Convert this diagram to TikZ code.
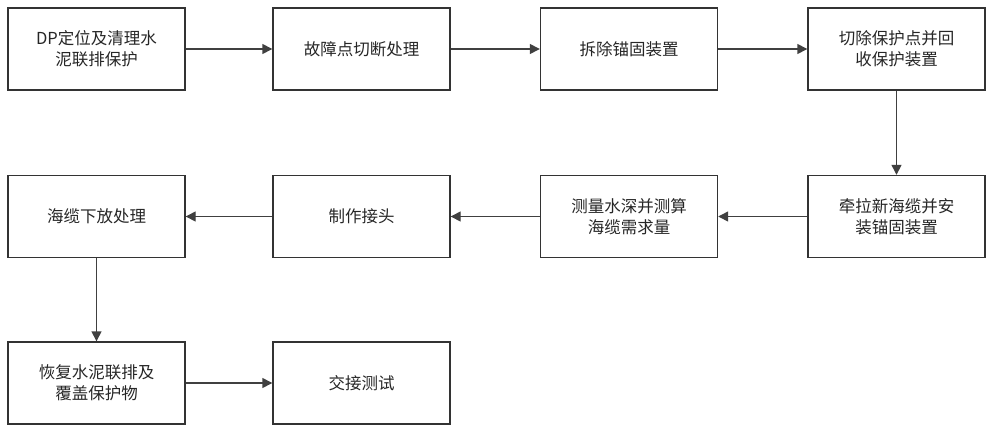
\documentclass[tikz,border=0pt]{standalone}
\usepackage{fontspec}
\setmainfont{Noto Sans CJK SC}
\usetikzlibrary{arrows.meta}
\begin{document}
\begin{tikzpicture}[x=1pt,y=-1pt,
  box/.style={draw=black!80,line width=1.4pt,minimum width=177pt,minimum height=82pt,align=center,font=\fontsize{16.5}{21}\selectfont,inner sep=2pt,text=black!85},
  arr/.style={-{Triangle[length=10pt,width=10pt]},line width=1.4pt,draw=black!75}]
\useasboundingbox (0,0) rectangle (1000,434);
\node[box] (a) at (96.5,49) {DP定位及清理水\\泥联排保护};
\node[box] (b) at (361.5,49) {故障点切断处理};
\node[box] (c) at (629,49) {拆除锚固装置};
\node[box] (d) at (896.5,49) {切除保护点并回\\收保护装置};
\node[box] (e) at (896.5,216.5) {牵拉新海缆并安\\装锚固装置};
\node[box] (f) at (629,216.5) {测量水深并测算\\海缆需求量};
\node[box] (g) at (361.5,216.5) {制作接头};
\node[box] (h) at (96.5,216.5) {海缆下放处理};
\node[box] (i) at (96.5,383) {恢复水泥联排及\\覆盖保护物};
\node[box] (j) at (361.5,383) {交接测试};
\draw[arr] (a) -- (b);
\draw[arr] (b) -- (c);
\draw[arr] (c) -- (d);
\draw[arr] (d) -- (e);
\draw[arr] (e) -- (f);
\draw[arr] (f) -- (g);
\draw[arr] (g) -- (h);
\draw[arr] (h) -- (i);
\draw[arr] (i) -- (j);
\end{tikzpicture}
\end{document}
